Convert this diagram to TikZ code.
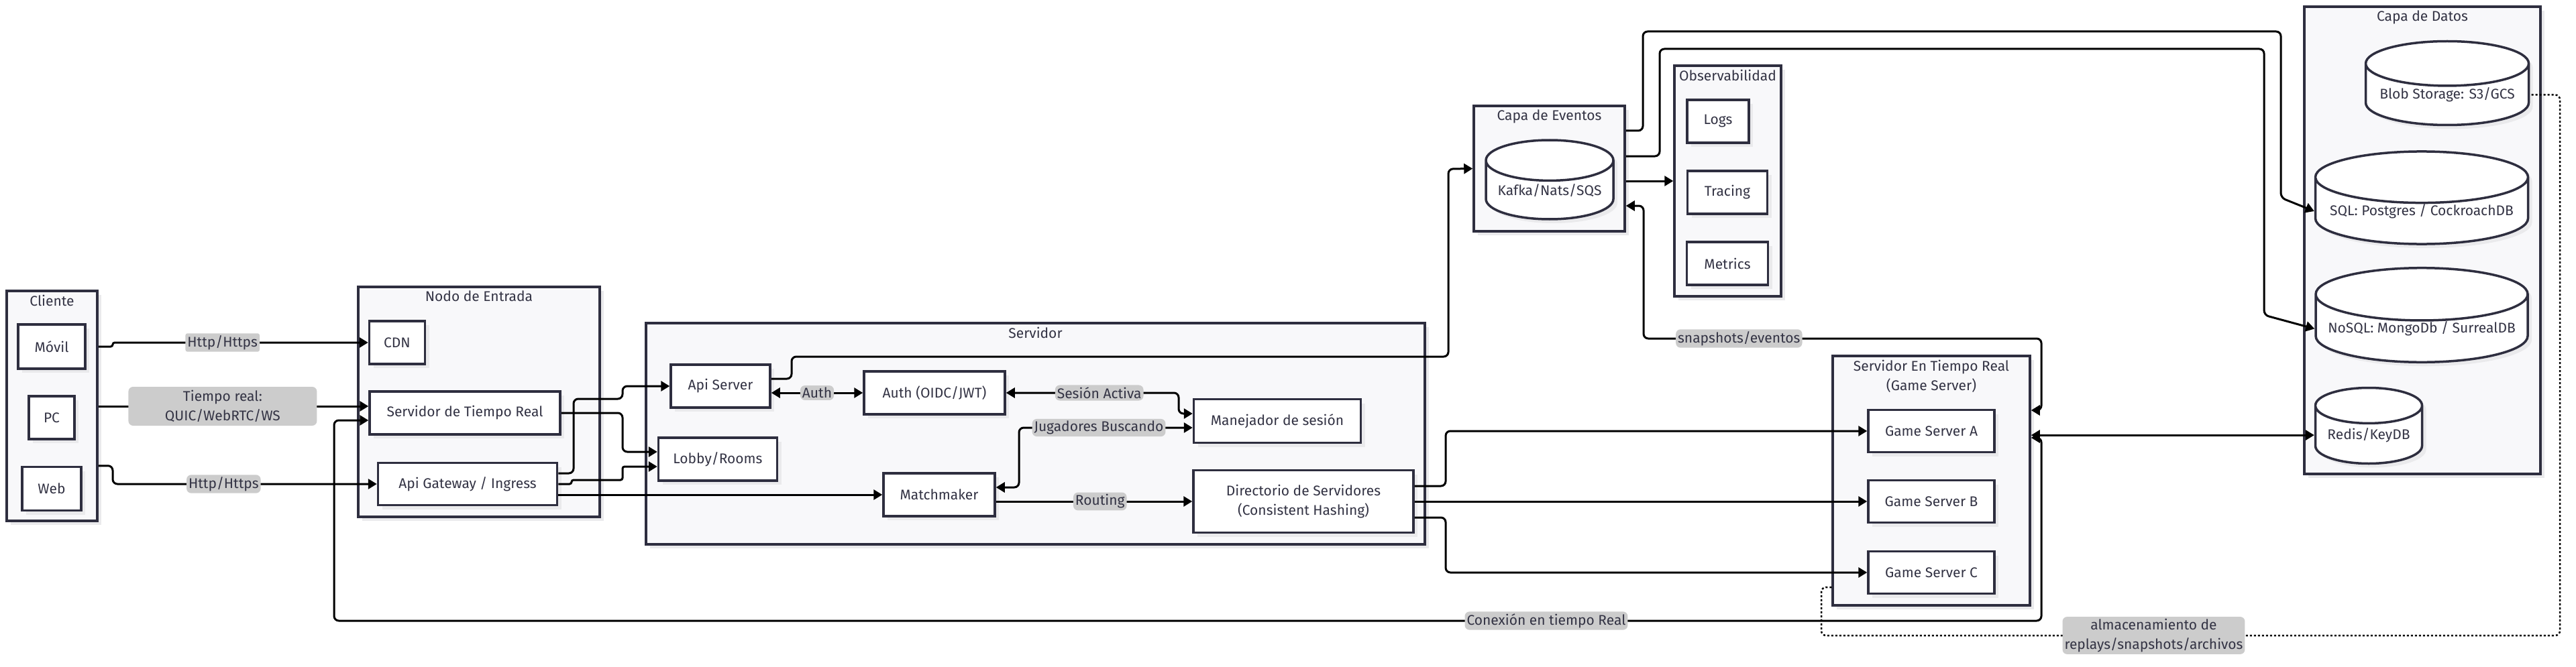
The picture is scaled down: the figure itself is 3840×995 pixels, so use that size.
\documentclass[tikz,border=0pt]{standalone}
\usepackage{fontspec}
\setmainfont{Fira Sans}
\usetikzlibrary{arrows.meta,positioning,shapes.geometric,shadows}

\definecolor{tinta}{HTML}{333344}
\definecolor{borde}{HTML}{2E2E3F}
\definecolor{fondo}{HTML}{F8F8FA}
\definecolor{gris}{HTML}{CCCCCC}
\definecolor{sombra}{HTML}{EAEAEC}

\tikzset{
  every node/.style={font=\fontsize{21}{29}\selectfont, text=tinta},
  sombreado/.style={drop shadow={shadow xshift=6pt, shadow yshift=-6pt, fill=sombra, opacity=1}},
  grupo/.style={draw=borde, fill=fondo, line width=3.5pt, sombreado},
  caja/.style={draw=borde, fill=white, line width=3.5pt, sombreado, align=center, inner sep=0pt},
  base/.style={cylinder, shape border rotate=90, draw=borde, fill=white, line width=3.5pt, sombreado, inner sep=0pt},
  titulo/.style={inner sep=0pt, align=center},
  etiqueta/.style={fill=gris, inner sep=3pt, align=center},
  linea/.style={draw=black, line width=3pt, rounded corners=7pt},
  flecha/.style={linea, -{Triangle[length=13pt,width=15pt]}},
  doble/.style={linea, {Triangle[length=13pt,width=15pt]}-{Triangle[length=13pt,width=15pt]}},
  punteado/.style={draw=black, line width=2.5pt, dash pattern=on 3pt off 3pt, rounded corners=7pt},
}

\begin{document}
\begin{tikzpicture}[x=1pt, y=-1pt]
\useasboundingbox (0,0) rectangle (3840,995);

% grupos
\node[grupo, minimum width=135pt, minimum height=343pt] (cli) at (77.5,605.5) {};
\node[titulo, below=7.5pt of cli.north] (tcli) {Cliente};
\node[grupo, minimum width=360pt, minimum height=343pt] (ent) at (714,599.5) {};
\node[titulo, below=7.5pt of ent.north] (tent) {Nodo de Entrada};
\node[grupo, minimum width=1161pt, minimum height=330pt] (srv) at (1543.5,647) {};
\node[titulo, below=7.5pt of srv.north] (tsrv) {Servidor};
\node[grupo, minimum width=225pt, minimum height=187pt] (eve) at (2309.5,251.5) {};
\node[titulo, below=7.5pt of eve.north] (teve) {Capa de Eventos};
\node[grupo, minimum width=159pt, minimum height=344pt] (obs) at (2575.5,270) {};
\node[titulo, below=7.5pt of obs.north] (tobs) {Observabilidad};
\node[grupo, minimum width=352pt, minimum height=697pt] (dat) at (3611,358.5) {};
\node[titulo, below=7.5pt of dat.north] (tdat) {Capa de Datos};
\node[grupo, minimum width=294pt, minimum height=372pt] (gms) at (2879,717) {};
\node[titulo, below=7.5pt of gms.north] (tgms) {Servidor En Tiempo Real\\(Game Server)};

% cliente
\node[caja, minimum width=100pt, minimum height=66pt] (movil) at (77,517) {Móvil};
\node[caja, minimum width=68pt, minimum height=64pt] (pc) at (77,623) {PC};
\node[caja, minimum width=88pt, minimum height=65pt] (web) at (77,729) {Web};

% nodo de entrada
\node[caja, minimum width=83pt, minimum height=64pt] (cdn) at (592,511) {CDN};
\node[caja, minimum width=284pt, minimum height=64pt] (sdtr) at (693,616) {Servidor de Tiempo Real};
\node[caja, minimum width=267pt, minimum height=63pt] (apigw) at (697,722) {Api Gateway / Ingress};

% servidor
\node[caja, minimum width=148pt, minimum height=64pt] (apisrv) at (1074,576) {Api Server};
\node[caja, minimum width=210pt, minimum height=64pt] (auth) at (1393,586) {Auth (OIDC/JWT)};
\node[caja, minimum width=177pt, minimum height=64pt] (lobby) at (1070,685) {Lobby/Rooms};
\node[caja, minimum width=166pt, minimum height=64pt] (match) at (1400,738) {Matchmaker};
\node[caja, minimum width=249pt, minimum height=65pt] (sesion) at (1904,628) {Manejador de sesión};
\node[caja, minimum width=328pt, minimum height=93pt] (dir) at (1943,748) {Directorio de Servidores\\(Consistent Hashing)};

% eventos y observabilidad
\node[base, minimum width=190pt, minimum height=118pt, aspect=0.39, anchor=shape center] (kafka) at (2310,268) {Kafka/Nats/SQS};
\node[caja, minimum width=92pt, minimum height=64pt] (logs) at (2561,181) {Logs};
\node[caja, minimum width=119pt, minimum height=64pt] (tracing) at (2575,287) {Tracing};
\node[caja, minimum width=121pt, minimum height=64pt] (metrics) at (2575,393) {Metrics};

% datos
\node[base, minimum width=243pt, minimum height=125pt, aspect=0.33, anchor=shape center] (blob) at (3648,124) {Blob Storage: S3/GCS};
\node[base, minimum width=317pt, minimum height=129pt, aspect=0.28, anchor=shape center] (sql) at (3610,295) {SQL: Postgres / CockroachDB};
\node[base, minimum width=316pt, minimum height=130pt, aspect=0.28, anchor=shape center] (nosql) at (3610,470) {NoSQL: MongoDb / SurrealDB};
\node[base, minimum width=159pt, minimum height=113pt, aspect=0.43, anchor=shape center] (redis) at (3531,635) {Redis/KeyDB};

% game servers
\node[caja, minimum width=188pt, minimum height=63pt] (gsa) at (2879,643) {Game Server A};
\node[caja, minimum width=188pt, minimum height=63pt] (gsb) at (2879,748) {Game Server B};
\node[caja, minimum width=188pt, minimum height=63pt] (gsc) at (2879,854) {Game Server C};

% conexiones cliente
\coordinate (ePC) at ([yshift=10pt]sdtr.west);
\draw[flecha, rounded corners=3pt] (cli.east |- movil.east) -| (168,511) -- node[etiqueta, pos=0.43]{Http/Https} (cdn.west);
\draw[flecha] (cli.east |- ePC) -- node[etiqueta, pos=0.46, minimum width=281pt, minimum height=58pt]{Tiempo real:\\QUIC/WebRTC/WS} (ePC);
\draw[flecha] (cli.east |- web.north) -| (168,722) -- node[etiqueta, pos=0.42]{Http/Https} (apigw.west);

% nodo de entrada -> servidor
\draw[flecha] ([yshift=16pt]apigw.east) -| (855,595) -- (928,595) |- (apisrv.west);
\draw[flecha] (sdtr.east) -| (928,674) -- ([yshift=11pt]lobby.west);
\draw[flecha, rounded corners=3pt] (apigw.east) -| (852,716) -| (928,696) -- ([yshift=-11pt]lobby.west);
\draw[flecha] ([yshift=-16pt]apigw.east) -- (match.west);

% servidor
\draw[doble] (apisrv.east |- auth.west) -- node[etiqueta]{Auth} (auth.west);
\draw[doble] (auth.east) -- node[etiqueta, pos=0.54]{Sesión Activa} (1757,586) |- ([yshift=11pt]sesion.west);
\draw[doble] ([yshift=-10pt]sesion.west) -- node[etiqueta, pos=0.54]{Jugadores Buscando} (1519,638) |- ([yshift=11pt]match.east);
\draw[flecha] ([yshift=-10pt]match.east) -- node[etiqueta, pos=0.53]{Routing} (dir.west);
\draw[flecha] ([yshift=23pt]dir.east) -| (2155,643) -- (gsa.west);
\draw[flecha] (dir.east) -- (gsb.west);
\draw[flecha] ([yshift=-24pt]dir.east) -| (2155,854) -- (gsc.west);

% eventos
\draw[flecha] ([yshift=11pt]apisrv.east) -| (1180,532) -| (2159,252) -- (eve.west);
\draw[flecha] ([yshift=-18.5pt]eve.east) -- (obs.west);
\draw[flecha] ([yshift=56.5pt]eve.east) -| (2449,47) -| (3400,295) -- (sql.west);
\draw[flecha] ([yshift=18.5pt]eve.east) -| (2474,73) -| (3375,470) -- (nosql.west);
\draw[doble] ([yshift=105pt]gms.east) -| (3043,505) -- node[etiqueta, pos=0.76]{snapshots/eventos} (2450,505) |- ([yshift=-55.5pt]eve.east);

% tiempo real y datos
\draw[doble] (redis.west -| gms.east) -- (redis.west);
\draw[doble] ([yshift=-11pt]sdtr.west) -- (498,627) -- (498,926) -- node[etiqueta, pos=0.71]{Conexión en tiempo Real} (3043,926) -- (3043,653) -- ([yshift=64pt]gms.east);
\draw[punteado] ([yshift=-159pt]gms.west) -| (2715,948) -- node[etiqueta, pos=0.45]{almacenamiento de\\replays/snapshots/archivos} (3816,948) |- (blob.east);
\end{tikzpicture}
\end{document}
